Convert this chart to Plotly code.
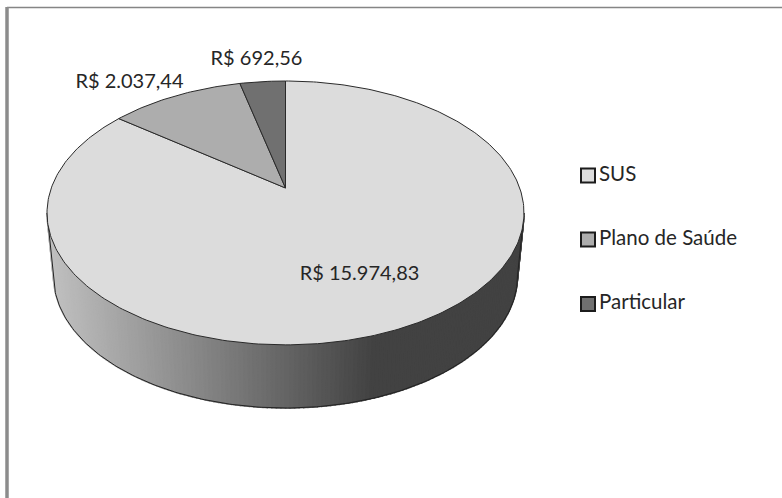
import numpy as np
import plotly.graph_objects as go

categories = ["SUS", "Plano de Saúde", "Particular"]
values = [15974.83, 2037.44, 692.56]
value_labels = ["R$ 15.974,83", "R$ 2.037,44", "R$ 692,56"]
top_colors = ["#dcdcdc", "#adadad", "#707070"]

W, H = 782, 498
FONT = "Lato"
TXT = "#262626"

# pie geometry (pixels): a disc seen in perspective
cx, cy, rx, ry = 285.5, 213.0, 238.5, 132.0
apex_shift = 25.0
k = 0.189
a = rx * np.sqrt(1 - k * k)
b = (ry - apex_shift) * (1 + k)
cx2, cy2, rx2, ry2 = 285.5, 276.0, 232.0, 132.0


def project(theta):
    """theta: clockwise from 12 o'clock on the true disc."""
    X, Y = np.sin(theta), np.cos(theta)
    w = 1 + k * Y
    return cx + a * X / w, cy - (b * Y / w + apex_shift)


def gray(x):
    f = np.clip((x - 50) / (375 - 50), 0, 1)
    v = int(round(192 + (66 - 192) * f))
    return f"rgb({v},{v},{v})"


fig = go.Figure()

# side wall: gradient slices along the front half
ts = np.linspace(0, np.pi, 161)
for t0, t1 in zip(ts[:-1], ts[1:]):
    xt = cx - rx * np.cos([t0, t1])
    yt = cy + ry * np.sin([t0, t1])
    xb = cx2 - rx2 * np.cos([t1, t0])
    yb = cy2 + ry2 * np.sin([t1, t0])
    col = gray(xt.mean())
    fig.add_trace(go.Scatter(
        x=list(xt) + list(xb) + [xt[0]], y=list(yt) + list(yb) + [yt[0]],
        mode="lines", fill="toself", fillcolor=col, line=dict(color=col, width=1.5),
        hoverinfo="skip", showlegend=False))

# wall outline
t = np.linspace(0, np.pi, 200)
ox = np.r_[cx - rx, cx2 - rx2 * np.cos(t), cx + rx]
oy = np.r_[cy, cy2 + ry2 * np.sin(t), cy]
fig.add_trace(go.Scatter(x=ox, y=oy, mode="lines", line=dict(color="#222222", width=1),
                         hoverinfo="skip", showlegend=False))

# top wedges, clockwise from 12 o'clock: SUS first
total = sum(values)
start = 0.0
ax, ay = cx, cy - apex_shift
for name, val, col in zip(categories, values, top_colors):
    end = start + 2 * np.pi * val / total
    th = np.linspace(start, end, max(int(val / total * 400), 12))
    px, py = project(th)
    fig.add_trace(go.Scatter(
        x=np.r_[ax, px, ax], y=np.r_[ay, py, ay], mode="lines", fill="toself",
        fillcolor=col, line=dict(color="#2a2a2a", width=1), name=name,
        hoverinfo="skip", showlegend=False))
    start = end

# value labels
label_x = [359.5, 129.5, 256.5]
label_y = [275, 83, 60]
fig.add_trace(go.Scatter(
    x=label_x, y=label_y, mode="text", text=value_labels, textposition="middle center",
    textfont=dict(family=FONT, size=20, color=TXT), hoverinfo="skip", showlegend=False))

# legend keys and labels
legend_y = [175.5, 239.5, 304]
fig.add_trace(go.Scatter(
    x=[588] * 3, y=legend_y, mode="markers",
    marker=dict(symbol="square", size=14, color=top_colors, line=dict(color="#1c1c1c", width=2)),
    hoverinfo="skip", showlegend=False))
fig.add_trace(go.Scatter(
    x=[599] * 3, y=legend_y, mode="text", text=categories, textposition="middle right",
    textfont=dict(family=FONT, size=20.5, color=TXT), hoverinfo="skip", showlegend=False))

fig.update_layout(
    width=W, height=H, margin=dict(l=0, r=0, t=0, b=0), autosize=False,
    paper_bgcolor="white", plot_bgcolor="white",
    xaxis=dict(range=[0, W], visible=False, fixedrange=True),
    yaxis=dict(range=[H, 0], visible=False, fixedrange=True),
    shapes=[
        dict(type="line", xref="x", yref="y", x0=7, x1=W, y0=7.5, y1=7.5, line=dict(color="#858585", width=1.5)),
        dict(type="line", xref="x", yref="y", x0=7, x1=7, y0=7, y1=H, line=dict(color="#8c8c8c", width=3.5)),
    ],
)
fig.write_html("out.html", config=dict(displayModeBar=False),
               post_script="document.body.style.margin='0';document.documentElement.style.overflow='hidden';")
